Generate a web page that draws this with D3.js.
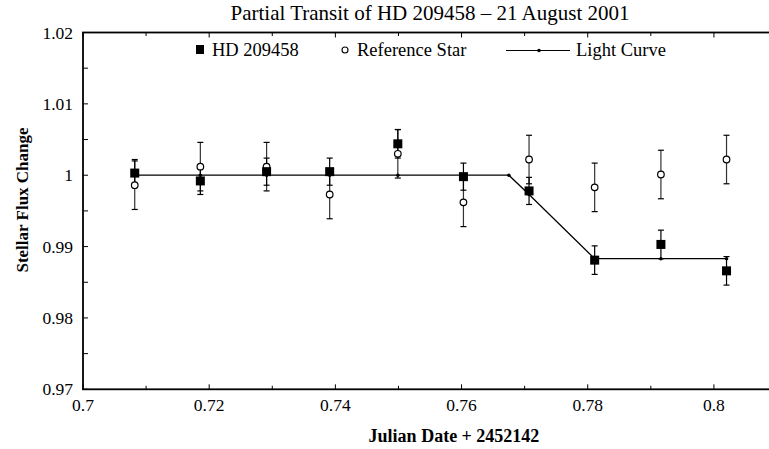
<!DOCTYPE html>
<html>
<head>
<meta charset="utf-8">
<script src="https://cdn.jsdelivr.net/npm/d3@7"></script>
<style>
  body { margin: 0; background: #fff; }
  text { font-family: "Liberation Serif", "Times New Roman", serif; fill: #000; }
</style>
</head>
<body>
<div id="plot"></div>
<script>
// observation times (Julian Date + 2452142)
var times = [0.7082, 0.7186, 0.7291, 0.7391, 0.7499, 0.7603, 0.7707, 0.7811, 0.7916, 0.8020];
// HD 209458 flux and error
var starFlux = [1.0003, 0.9992, 1.0005, 1.0005, 1.0044, 0.9998, 0.9978, 0.9881, 0.9903, 0.9866];
var starErr = [0.0019, 0.0019, 0.0019, 0.0019, 0.0020, 0.0019, 0.0019, 0.0020, 0.0020, 0.0020];
// reference star flux and error
var refFlux = [0.9986, 1.0012, 1.0012, 0.9973, 1.0030, 0.9962, 1.0022, 0.9983, 1.0001, 1.0022];
var refErr = [0.0034, 0.0034, 0.0034, 0.0034, 0.0034, 0.0034, 0.0034, 0.0034, 0.0034, 0.0034];
// model light curve
var curveX = [0.7082, 0.7186, 0.7291, 0.7391, 0.7499, 0.7603, 0.7675, 0.7707, 0.7811, 0.7916, 0.8020];
var curveY = [1.0, 1.0, 1.0, 1.0, 1.0, 1.0, 1.0, 0.9973, 0.9883, 0.9883, 0.9883];

var xTickVals = [0.7, 0.72, 0.74, 0.76, 0.78, 0.8];
var xTickLabels = ["0.7", "0.72", "0.74", "0.76", "0.78", "0.8"];
var yTickVals = [0.97, 0.98, 0.99, 1.0, 1.01, 1.02];
var yTickLabels = ["0.97", "0.98", "0.99", "1", "1.01", "1.02"];

var W = 769, H = 449;
var margin = { top: 32.5, right: -8, bottom: 59.7, left: 83 };
var width = W - margin.left - margin.right,
  height = H - margin.top - margin.bottom;

var x = d3.scaleLinear().domain([0.7, 0.81]).range([0, width]);
var y = d3.scaleLinear().domain([0.97, 1.02]).range([height, 0]);

var svg = d3.select("#plot").append("svg")
  .attr("width", W)
  .attr("height", H);

var g = svg.append("g")
  .attr("transform", "translate(" + margin.left + "," + margin.top + ")");

// frame
g.append("rect")
  .attr("width", width).attr("height", height)
  .attr("fill", "none").attr("stroke", "#000").attr("stroke-width", 1.8);

// ticks (inside)
var xMinor = d3.range(0.7, 0.8101, 0.01);
var yMinor = d3.range(0.97, 1.0201, 0.005);
xMinor.forEach(function (v, i) {
  var len = (i % 2 === 0) ? 5 : 3.5;
  g.append("line").attr("x1", x(v)).attr("x2", x(v)).attr("y1", height).attr("y2", height - len)
    .attr("stroke", "#000").attr("stroke-width", 1);
  g.append("line").attr("x1", x(v)).attr("x2", x(v)).attr("y1", 0).attr("y2", len)
    .attr("stroke", "#000").attr("stroke-width", 1);
});
yMinor.forEach(function (v) {
  g.append("line").attr("x1", 0).attr("x2", 5).attr("y1", y(v)).attr("y2", y(v))
    .attr("stroke", "#000").attr("stroke-width", 1);
});

// tick labels
g.selectAll(".xl").data(xTickVals).enter().append("text")
  .attr("x", function (d) { return x(d); })
  .attr("y", height + 22)
  .attr("text-anchor", "middle")
  .style("font-size", "17.5px")
  .text(function (d, i) { return xTickLabels[i]; });

g.selectAll(".yl").data(yTickVals).enter().append("text")
  .attr("x", -10)
  .attr("y", function (d) { return y(d) + 6; })
  .attr("text-anchor", "end")
  .style("font-size", "17.5px")
  .text(function (d, i) { return yTickLabels[i]; });

// axis titles
svg.append("text")
  .attr("x", 454).attr("y", 442)
  .attr("text-anchor", "middle")
  .style("font-size", "18px").style("font-weight", "bold")
  .text("Julian Date + 2452142");

svg.append("text")
  .attr("transform", "translate(28,200) rotate(-90)")
  .attr("text-anchor", "middle")
  .style("font-size", "17px").style("font-weight", "bold")
  .text("Stellar Flux Change");

svg.append("text")
  .attr("x", 430).attr("y", 20)
  .attr("text-anchor", "middle")
  .style("font-size", "21px")
  .text("Partial Transit of HD 209458 \u2013 21 August 2001");

// light curve
var line = d3.line()
  .x(function (d, i) { return x(curveX[i]); })
  .y(function (d) { return y(d); });
g.append("path").datum(curveY)
  .attr("d", line)
  .attr("fill", "none").attr("stroke", "#000").attr("stroke-width", 1.3);

// error bars
function errBars(vals, errs, color) {
  vals.forEach(function (v, i) {
    var cx = x(times[i]);
    var t = y(v + errs[i]), b = y(v - errs[i]);
    g.append("line").attr("x1", cx).attr("x2", cx).attr("y1", t).attr("y2", b)
      .attr("stroke", color).attr("stroke-width", 1.2);
    [t, b].forEach(function (yy) {
      g.append("line").attr("x1", cx - 3).attr("x2", cx + 3).attr("y1", yy).attr("y2", yy)
        .attr("stroke", "#000").attr("stroke-width", 1.2);
    });
  });
}
errBars(refFlux, refErr, "#333");
errBars(starFlux, starErr, "#000");

// curve dots
g.selectAll(".cd").data(curveY).enter().append("circle")
  .attr("cx", function (d, i) { return x(curveX[i]); })
  .attr("cy", function (d) { return y(d); })
  .attr("r", 1.8).attr("fill", "#000");

// reference star circles
g.selectAll(".rs").data(refFlux).enter().append("circle")
  .attr("cx", function (d, i) { return x(times[i]); })
  .attr("cy", function (d) { return y(d); })
  .attr("r", 3.3).attr("fill", "#fff").attr("stroke", "#000").attr("stroke-width", 1.2);

// HD 209458 squares
g.selectAll(".sq").data(starFlux).enter().append("rect")
  .attr("x", function (d, i) { return x(times[i]) - 4.5; })
  .attr("y", function (d) { return y(d) - 4.5; })
  .attr("width", 9).attr("height", 9).attr("fill", "#000");

// legend
var lg = svg.append("g");
lg.append("rect").attr("x", 196).attr("y", 45).attr("width", 8).attr("height", 9).attr("fill", "#000");
lg.append("text").attr("x", 212).attr("y", 56).style("font-size", "18.5px").text("HD 209458");
lg.append("circle").attr("cx", 345).attr("cy", 50).attr("r", 3).attr("fill", "#fff")
  .attr("stroke", "#000").attr("stroke-width", 1.1);
lg.append("text").attr("x", 357).attr("y", 56).style("font-size", "18.5px").text("Reference Star");
lg.append("line").attr("x1", 506).attr("x2", 570).attr("y1", 50.5).attr("y2", 50.5)
  .attr("stroke", "#000").attr("stroke-width", 1.2);
lg.append("circle").attr("cx", 539).attr("cy", 50.5).attr("r", 1.8).attr("fill", "#000");
lg.append("text").attr("x", 576).attr("y", 56).style("font-size", "18.5px").text("Light Curve");
</script>
</body>
</html>
